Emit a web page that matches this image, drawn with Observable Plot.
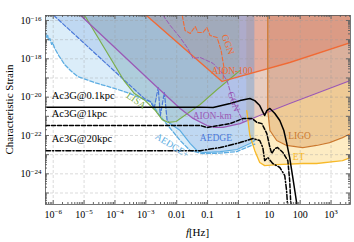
<!DOCTYPE html>
<html><head><meta charset="utf-8">
<script src="https://cdn.jsdelivr.net/npm/d3@7"></script>
<script src="https://cdn.jsdelivr.net/npm/@observablehq/plot@0.6"></script>
<style>
body{margin:0;background:#fff;}
#chart svg{font-family:"Liberation Serif","DejaVu Serif",serif;}
</style>
</head><body><div id="chart"></div>
<script>
// All curves are [log10 f/Hz, log10 h_c] pairs
const aedgePlus = [[-6.25,-16.68],[-6.21,-16.89],[-6.18,-16.78],[-6.15,-17.04],[-6.11,-16.94],[-6.05,-17.25],[-6.02,-17.15],[-5.95,-17.46],[-5.82,-17.83],[-5.63,-18.30],[-5.44,-18.61],[-5.21,-18.92],[-4.66,-19.24],[-4.11,-19.50],[-3.60,-19.76],[-3.05,-20.12],[-2.82,-20.28],[-2.60,-20.85],[-2.37,-21.32],[-2.15,-21.74],[-1.89,-22.26],[-1.56,-22.79],[-1.15,-22.95],[-0.59,-22.92],[-0.05,-22.84],[0.37,-22.55],[0.53,-22.45]];
const aedgeUpper = [[-5.98,-15.74],[-3.05,-20.07],[-2.85,-20.23],[-2.73,-20.59],[-2.60,-19.50],[-2.53,-20.96],[-2.40,-19.76],[-2.31,-21.22],[-2.21,-21.38]];
const aedgeLower = [[-2.21,-21.38],[-1.89,-21.74],[-1.56,-22.42],[-1.34,-22.79],[-1.15,-22.89],[-0.59,-22.84],[-0.05,-22.73],[0.37,-22.42],[0.53,-22.26]];
const lisa = [[-4.98,-15.74],[-3.69,-19.18],[-3.37,-19.81],[-3.02,-20.18],[-2.69,-20.70],[-2.47,-21.17],[-2.27,-21.32],[-2.02,-21.27],[-1.79,-21.01],[-1.24,-20.38],[-0.69,-19.60],[0.05,-18.61]];
const aionKm = [[-5.11,-15.74],[-2.73,-19.34],[-1.89,-20.59],[-1.47,-21.11],[-1.02,-21.48],[-0.76,-21.58],[-0.50,-21.58],[0.05,-21.38],[0.53,-21.06],[0.92,-20.80],[1.66,-20.33],[3.63,-19.13]];
const aion100 = [[-2.98,-15.74],[-0.53,-19.18],[1.66,-18.19],[3.63,-17.15]];
const ggn100 = [[-1.82,-15.74],[-1.73,-16.52],[-1.56,-16.68],[-1.40,-16.31],[-1.31,-16.63],[-1.15,-16.63],[-1.02,-16.37],[-0.92,-16.78],[-0.69,-16.89],[-0.56,-17.57],[-0.47,-18.45],[-0.50,-19.13]];
const ggnKm = [[-2.44,-15.74],[-2.21,-16.26],[-1.89,-16.89],[-1.66,-17.41],[-1.47,-17.98],[-1.24,-17.93],[-1.02,-18.09],[-0.82,-18.24],[-0.60,-18.61],[-0.37,-19.13],[-0.18,-20.18],[-0.02,-20.70],[0.15,-21.27]];
const ligo = [[0.95,-15.74],[0.95,-20.70],[1.02,-21.74],[1.24,-22.26],[1.56,-22.52],[2.08,-22.63],[2.53,-22.52],[2.95,-22.37],[3.37,-22.11],[3.63,-21.90]];
const et = [[0.27,-20.70],[0.37,-22.00],[0.53,-22.79],[0.69,-23.41],[0.85,-23.57],[1.24,-23.52],[2.08,-23.46],[2.53,-23.46],[3.37,-23.31],[3.63,-23.15]];
const ac3g01 = [[-6.25,-20.52],[-1.24,-20.52],[-0.82,-20.54],[-0.27,-20.33],[0.05,-20.18],[0.37,-20.07],[0.53,-20.18],[0.69,-20.44],[0.85,-20.96],[0.92,-20.70],[1.02,-20.59],[1.18,-20.85],[1.34,-21.22],[1.47,-21.74],[1.56,-22.37],[1.66,-23.15],[1.76,-24.19],[1.85,-25.13],[1.92,-25.9]];
const ac3g1 = [[-6.25,-21.48],[-1.24,-21.48],[-1.02,-21.58],[-0.27,-21.38],[0.15,-21.11],[0.44,-21.11],[0.60,-21.32],[0.76,-21.38],[0.92,-21.90],[1.02,-22.63],[1.08,-22.94],[1.18,-22.68],[1.27,-22.63],[1.44,-22.89],[1.60,-23.31],[1.66,-24.35],[1.69,-25.39],[1.73,-25.9]];
const ac3g20 = [[-6.25,-22.79],[-1.24,-22.79],[-0.59,-22.63],[0.05,-22.37],[0.47,-22.16],[0.69,-22.26],[0.79,-22.63],[0.85,-23.31],[0.95,-23.15],[1.11,-23.46],[1.34,-23.67],[1.50,-24.09],[1.56,-24.87],[1.60,-25.9]];

// labels: [text, log10 f, log10 h]
const labelText = ["LISA","GGN","AION-100","GGN","AION-km","AEDGE","AEDGE+","LIGO","ET"];
const labelPos = [[-3.31,-20.18],[-0.34,-17.25],[-0.21,-18.61],[-0.15,-20.23],[-0.85,-20.96],[-0.73,-22.11],[-2.15,-22.52],[1.98,-22.05],[1.95,-23.10]];
const labelColor = ["#7cae4c","#f06a35","#f06a35","#9b59b6","#9b59b6","#4a78d8","#5dade2","#cc7a30","#f7b928"];
const labelRotate = [35,70,0,70,0,0,32,0,0];
const ac3gText = ["Ac3G@0.1kpc","Ac3G@1kpc","Ac3G@20kpc"];
const ac3gPos = [[-6.05,-19.91],[-6.05,-20.85],[-6.05,-22.16]];

const xTickExp = [-6,-5,-4,-3,-2,-1,0,1,2,3];
const xTickLabel = ["10^−6","10^−5","10^−4","10^−3","0.01","0.1","1","10","100","10^3"];
const yTickExp = [-16,-18,-20,-22,-24];
const yTickLabel = ["10^−16","10^−18","10^−20","10^−22","10^−24"];
const xDomainExp = [-6.25, 3.63];
const yDomainExp = [-25.6, -15.74];

const P = a => a.map(([lf, lh]) => ({f: 10 ** lf, h: 10 ** lh}));
const yTop = 10 ** yDomainExp[1];
const W = 354, H = 242, mL = 45, mR = 4, mT = 15, mB = 38;
const iw = W - mL - mR, ih = H - mT - mB;

const xMajor = d3.range(-6, 4).map(e => 10 ** e);
const xMinor = [];
for (let e = -7; e <= 3; e++) for (let m = 2; m <= 9; m++) { const v = m * 10 ** e; if (v > 10 ** xDomainExp[0] && v < 10 ** xDomainExp[1]) xMinor.push(v); }
const yMajor = d3.range(-25, -15).map(e => 10 ** e);
const yMinor = [];
for (let e = -26; e <= -16; e++) for (let m = 2; m <= 9; m++) { const v = m * 10 ** e; if (v > 10 ** yDomainExp[0] && v < yTop) yMinor.push(v); }

const xFmt = new Map(xTickExp.map((e, i) => [e, xTickLabel[i]]));
const yFmt = new Map(yTickExp.map((e, i) => [e, yTickLabel[i]]));

const fillArea = (arr, color, op) => Plot.areaY(P(arr), {x: "f", y1: "h", y2: yTop, fill: color, fillOpacity: op, clip: true});
const ln = (arr, color, w, dash) => Plot.line(P(arr), {x: "f", y: "h", stroke: color, strokeWidth: w, strokeDasharray: dash, clip: true});

const labels = labelText.map((t, i) => ({t, f: 10 ** labelPos[i][0], h: 10 ** labelPos[i][1], c: labelColor[i], r: labelRotate[i]}));
const ac3gLabels = ac3gText.map((t, i) => ({t, f: 10 ** ac3gPos[i][0], h: 10 ** ac3gPos[i][1]}));

const tickColor = "#666";
const chart = Plot.plot({
  width: W, height: H, marginLeft: mL, marginRight: mR, marginTop: mT, marginBottom: mB,
  style: {fontFamily: "Liberation Serif, DejaVu Serif, serif", fontSize: "10px", background: "#fff"},
  x: {type: "log", domain: xDomainExp.map(e => 10 ** e), ticks: xTickExp.map(e => 10 ** e), tickFormat: d => xFmt.get(Math.round(Math.log10(d))), tickSize: 0, tickPadding: 6, label: null},
  y: {type: "log", domain: yDomainExp.map(e => 10 ** e), ticks: yTickExp.map(e => 10 ** e), tickFormat: d => yFmt.get(Math.round(Math.log10(d))), tickSize: 0, tickPadding: 4, label: null},
  marks: [
    fillArea(et, "#f7b928", 0.28),
    Plot.areaY(P([[0.95,-20.70]].concat(ligo.slice(1))), {x: "f", y1: "h", y2: yTop, fill: "#cc7a30", fillOpacity: 0.3, clip: true}),
    fillArea(aion100, "#f06a35", 0.3),
    fillArea(aionKm, "#9b59b6", 0.22),
    fillArea(lisa, "#7cae4c", 0.2),
    fillArea(aedgeUpper.concat(aedgeLower.slice(1)), "#4a78d8", 0.2),
    fillArea(aedgePlus, "#5dade2", 0.22),
    Plot.ruleX(xMajor, {x: d => d, stroke: "#999", strokeOpacity: 0.6, strokeWidth: 0.6, strokeDasharray: "3,2"}),
    Plot.ruleY(yMajor, {y: d => d, stroke: "#999", strokeOpacity: 0.6, strokeWidth: 0.6, strokeDasharray: "3,2"}),
    ln(aedgePlus, "#5dade2", 1.3, "4,2"),
    ln(aedgeUpper, "#4a78d8", 1.2, "4,2"),
    ln(aedgeLower, "#5dade2", 1.2, null),
    ln(lisa, "#7cae4c", 1.2, null),
    ln(aionKm, "#9b59b6", 1.3, null),
    ln(aion100, "#f06a35", 1.4, null),
    ln(ggn100, "#f06a35", 1.1, "4,2"),
    ln(ggnKm, "#9b59b6", 1.0, "4,2"),
    ln(ligo, "#cc7a30", 1.2, null),
    ln(et, "#f7b928", 1.3, null),
    ln(ac3g01, "#000", 1.5, null),
    ln(ac3g1, "#000", 1.5, "4,2"),
    ln(ac3g20, "#000", 1.5, "5,2,1.2,2"),
    Plot.text(labels, {x: "f", y: "h", text: "t", fill: "c", rotate: "r", fontSize: 9.5}),
    Plot.text(ac3gLabels, {x: "f", y: "h", text: "t", fill: "#000", textAnchor: "start", fontSize: 10.5}),
    Plot.tickX(xMajor, {x: d => d, insetTop: ih - 4, stroke: tickColor}),
    Plot.tickX(xMajor, {x: d => d, insetBottom: ih - 4, stroke: tickColor}),
    Plot.tickX(xMinor, {x: d => d, insetTop: ih - 2, stroke: tickColor}),
    Plot.tickX(xMinor, {x: d => d, insetBottom: ih - 2, stroke: tickColor}),
    Plot.tickY(yMajor, {y: d => d, insetRight: iw - 4, stroke: tickColor}),
    Plot.tickY(yMajor, {y: d => d, insetLeft: iw - 4, stroke: tickColor}),
    Plot.tickY(yMinor, {y: d => d, insetRight: iw - 2, stroke: tickColor}),
    Plot.tickY(yMinor, {y: d => d, insetLeft: iw - 2, stroke: tickColor}),
    Plot.frame({stroke: "#555", strokeWidth: 0.8})
  ]
});

// superscripts in tick labels
const NS = "http://www.w3.org/2000/svg";
chart.querySelectorAll("text").forEach(t => {
  const s = t.textContent;
  if (s.includes("^") && t.children.length <= 1) {
    const [base, exp] = s.split("^");
    while (t.firstChild) t.removeChild(t.firstChild);
    const a = document.createElementNS(NS, "tspan"); a.textContent = base;
    const b = document.createElementNS(NS, "tspan"); b.textContent = exp;
    b.setAttribute("dy", "-0.45em"); b.setAttribute("font-size", "7px");
    t.appendChild(a); t.appendChild(b);
  }
});
// axis titles
const yl = document.createElementNS(NS, "text");
yl.setAttribute("transform", `translate(13,${mT + ih / 2}) rotate(-90)`);
yl.setAttribute("text-anchor", "middle"); yl.setAttribute("font-size", "11px");
yl.textContent = "Characteristic Strain";
chart.appendChild(yl);
const xl = document.createElementNS(NS, "text");
xl.setAttribute("x", mL + iw / 2); xl.setAttribute("y", H - 6);
xl.setAttribute("text-anchor", "middle"); xl.setAttribute("font-size", "11px");
const xf = document.createElementNS(NS, "tspan"); xf.setAttribute("font-style", "italic"); xf.textContent = "f";
const xh = document.createElementNS(NS, "tspan"); xh.textContent = "[Hz]";
xl.appendChild(xf); xl.appendChild(xh);
chart.appendChild(xl);

document.getElementById("chart").appendChild(chart);
</script>
</body></html>
